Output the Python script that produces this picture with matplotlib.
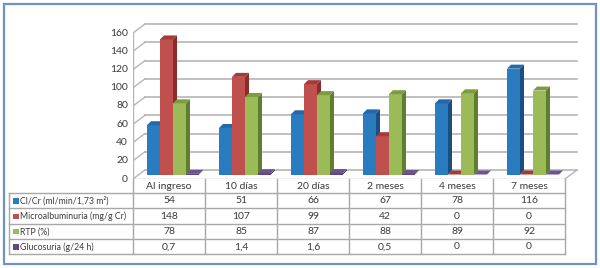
import matplotlib
matplotlib.use('Agg')
import matplotlib.pyplot as plt
from matplotlib.patches import Polygon, Rectangle

plt.rcParams['font.family'] = ['Lato', 'DejaVu Sans']

categories = ['Al ingreso', '10 días', '20 días', '2 meses', '4 meses', '7 meses']
series_names = ['Cl/Cr (ml/min/1,73 m²)', 'Microalbuminuria (mg/g Cr)', 'RTP (%)', 'Glucosuria (g/24 h)']
clcr = [54, 51, 66, 67, 78, 116]
microalb = [148, 107, 99, 42, 0, 0]
rtp = [78, 85, 87, 88, 89, 92]
glucosuria = [0.7, 1.4, 1.6, 0.5, 0, 0]
glucosuria_labels = ['0,7', '1,4', '1,6', '0,5', '0', '0']
yticks = [0, 20, 40, 60, 80, 100, 120, 140, 160]

series = [clcr, microalb, rtp, glucosuria]
table_rows = [[str(v) for v in clcr], [str(v) for v in microalb],
              [str(v) for v in rtp], glucosuria_labels]

# front, side, top colours
colors = [('#2a7cc0', '#1a4f80', '#2368a8'),
          ('#c0504d', '#8a2d2a', '#a33c39'),
          ('#9bbb59', '#5f7e2e', '#7d9c40'),
          ('#604a7b', '#45345a', '#6a5590')]
text_col = '#3a3a3a'
grid_col = '#b5b5b5'

W, H = 600, 268
fig = plt.figure(figsize=(W / 100, H / 100), dpi=100)

# pixel-space overlay for frame and table
bg = fig.add_axes([0, 0, 1, 1])
bg.set_xlim(0, W)
bg.set_ylim(H, 0)
bg.axis('off')
bg.add_patch(Rectangle((3.5, 4), 592, 259.5, fill=False, ec='#6f93c9', lw=1.6))

# chart axes: front plane x 0..6 -> px 133..565, y 0..160 -> px 179..33
x0, y0 = 133, 179
px_x = 72.0
px_y = (179 - 33) / 160.0
x1, y1 = 582, 18
ax = fig.add_axes([x0 / W, 1 - y0 / H, (x1 - x0) / W, (y0 - y1) / H])
ax.set_xlim(0, (x1 - x0) / px_x)
ax.set_ylim(0, (y0 - y1) / px_y)
ax.axis('off')

n = len(categories)
DX = 12 / px_x
DY = 9 / px_y

# back wall grid and left wall diagonals
for v in yticks:
    ax.plot([DX, n + DX], [v + DY, v + DY], color=grid_col, lw=1.2, zorder=1)
    ax.plot([0, DX], [v, v + DY], color=grid_col, lw=1.0, zorder=1)
    ax.text(-5 / px_x, v, str(v), ha='right', va='center', fontsize=7.5, color=text_col)
ax.plot([0, 0], [0, 160], color=grid_col, lw=1.0, zorder=1)
ax.plot([n, n + DX], [0, DY], color=grid_col, lw=1.0, zorder=1)
ax.plot([0, n], [0, 0], color=grid_col, lw=1.0, zorder=1)

# bars (sit halfway into the depth)
bw = 13 / px_x
sx = 4 / px_x
sy = 4 / px_y
start = 14 / px_x
base = DY / 2
for j, vals in enumerate(series):
    fc, sc, tc = colors[j]
    xs = [i + start + j * bw for i in range(n)]
    ax.bar(xs, vals, width=bw, bottom=base, align='edge', color=fc, lw=0, zorder=3 + j)
    for x, v in zip(xs, vals):
        top = base + v
        ax.add_patch(Polygon([(x + bw, base), (x + bw + sx, base + sy), (x + bw + sx, top + sy), (x + bw, top)],
                             closed=True, fc=sc, lw=0, zorder=3 + j))
        ax.add_patch(Polygon([(x, top), (x + sx, top + sy), (x + bw + sx, top + sy), (x + bw, top)],
                             closed=True, fc=tc, lw=0, zorder=3 + j))

# data table
col_x = [x0 + k * px_x for k in range(n + 1)]
row_y = [179, 192.5, 208.2, 223.6, 238.8, 254]
lc = '#a8a8a8'
for xx in col_x:
    bg.plot([xx, xx], [row_y[0], row_y[-1]], color=lc, lw=1.0)
bg.plot([9, 9], [row_y[1], row_y[-1]], color=lc, lw=1.0)
for k, yy in enumerate(row_y[1:]):
    bg.plot([9, col_x[-1]], [yy, yy], color=lc, lw=1.0)
for i, c in enumerate(categories):
    bg.text(col_x[i] + px_x / 2, (row_y[0] + row_y[1]) / 2 + 0.5, c, ha='center', va='center',
            fontsize=7.5, color=text_col)
for r in range(4):
    yc = (row_y[r + 1] + row_y[r + 2]) / 2 + 0.5
    bg.add_patch(Rectangle((13, yc - 2.8), 5.5, 5.5, fc=colors[r][0], lw=0))
    bg.text(20.5, yc, series_names[r], ha='left', va='center', fontsize=6.3, color=text_col)
    for i in range(n):
        bg.text(col_x[i] + px_x / 2, yc, table_rows[r][i], ha='center', va='center',
                fontsize=7.5, color=text_col)

fig.savefig('out.png', dpi=100)
